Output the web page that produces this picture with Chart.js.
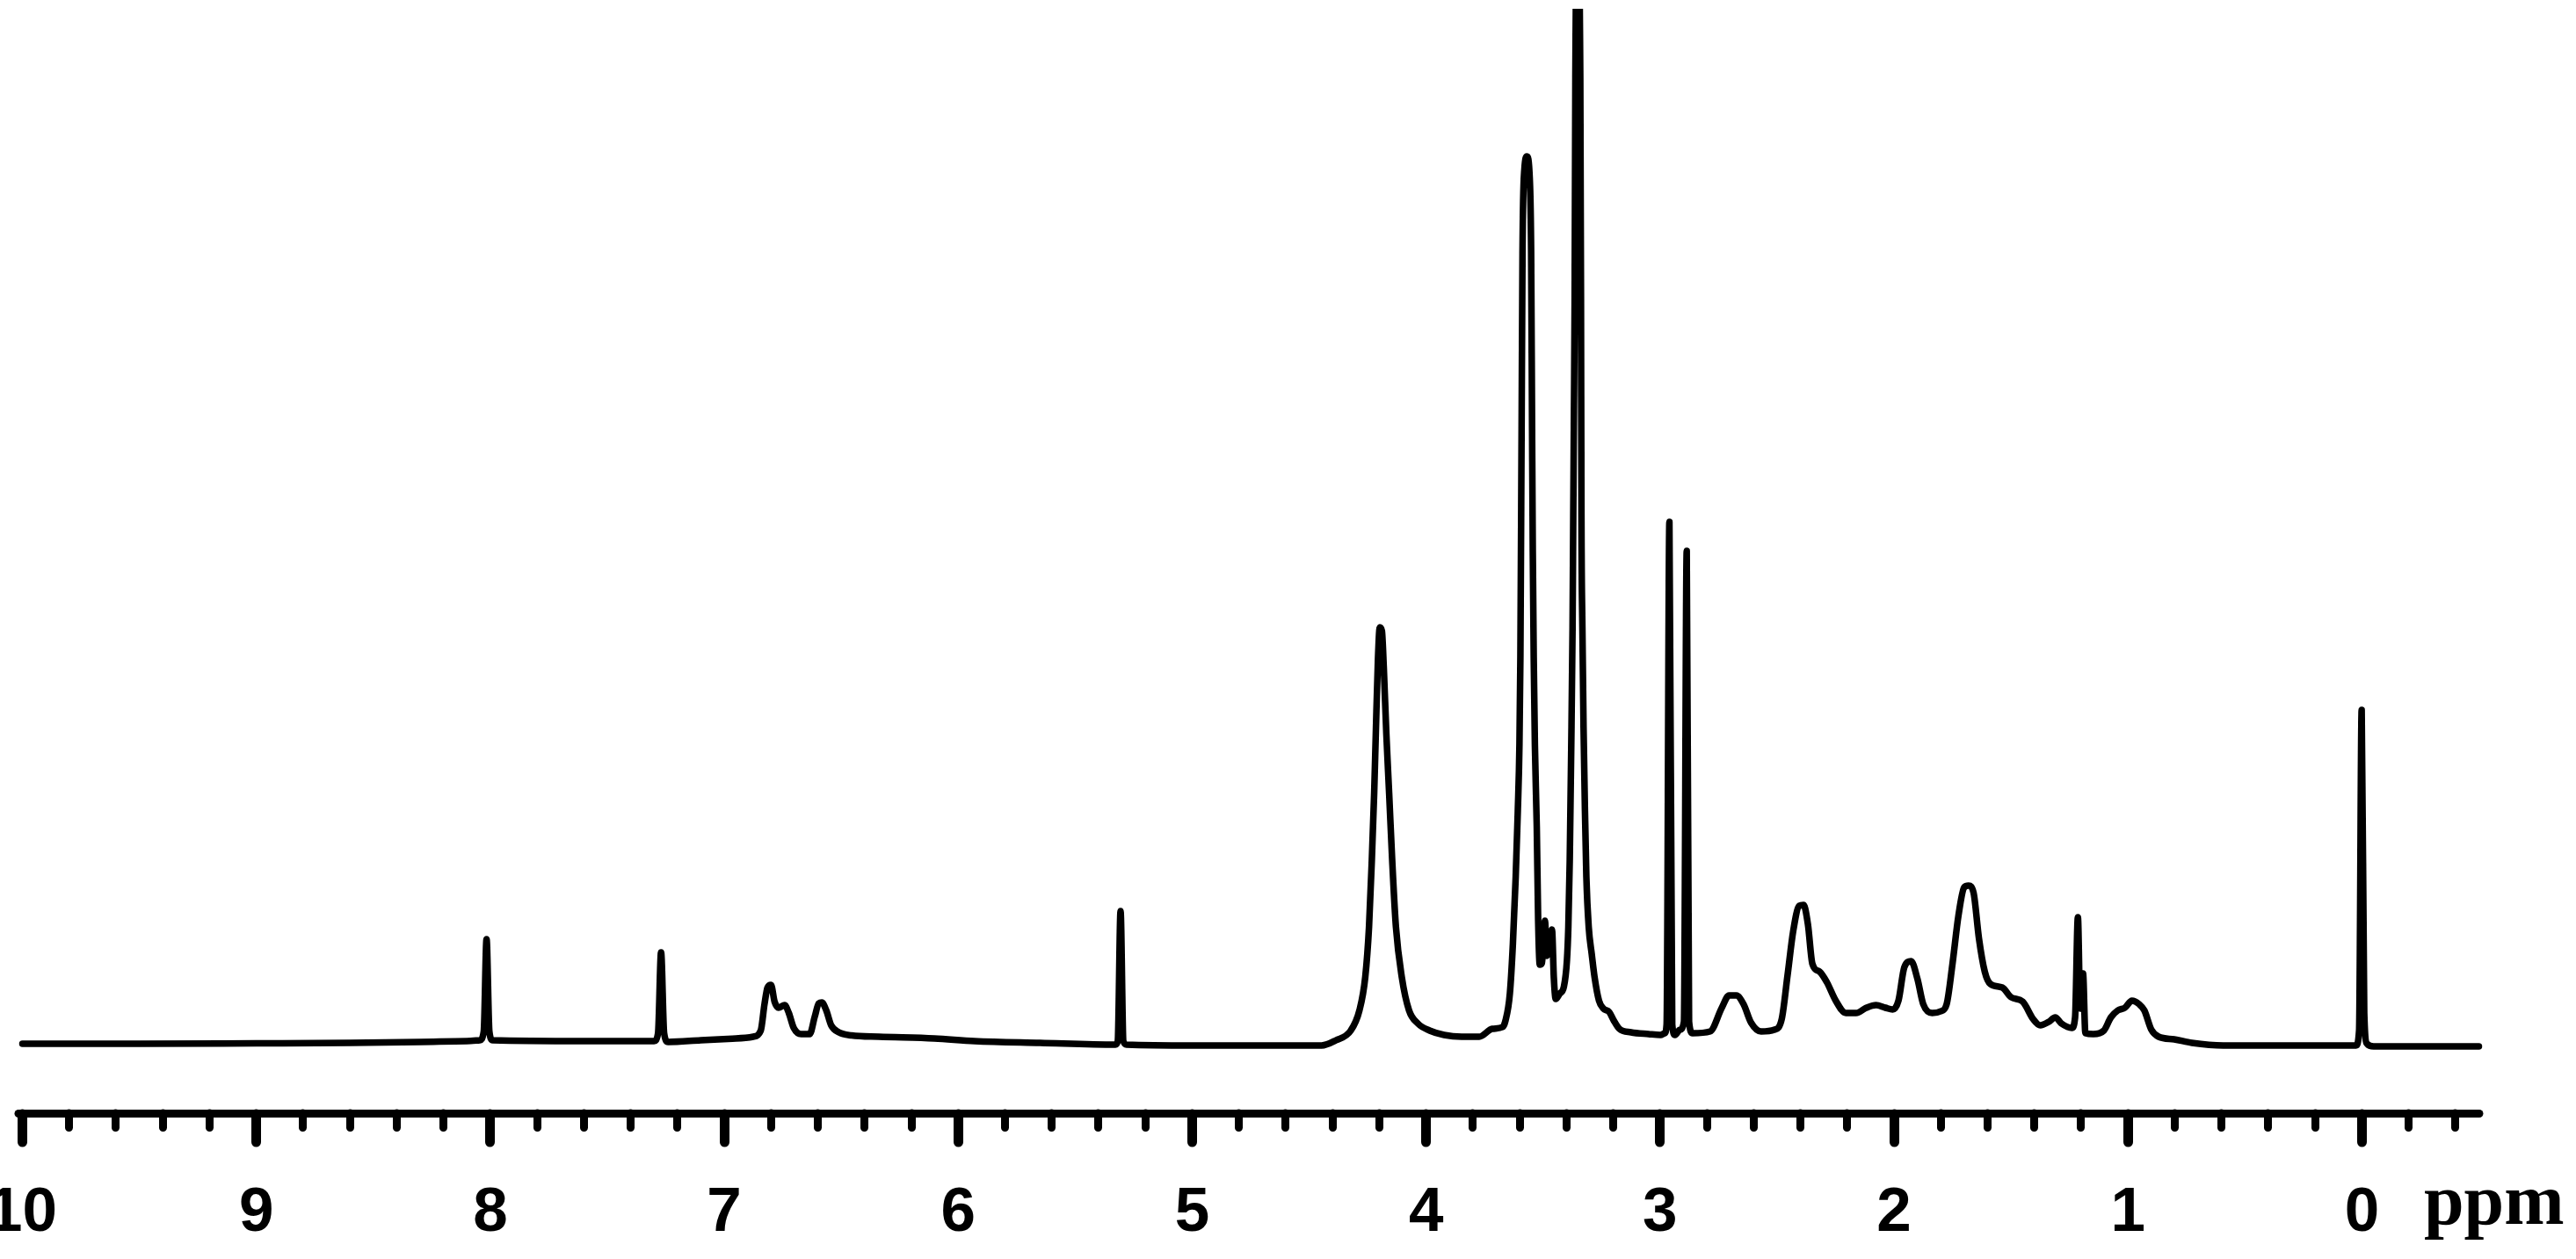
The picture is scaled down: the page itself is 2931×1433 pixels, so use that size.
<!DOCTYPE html>
<html>
<head>
<meta charset="utf-8">
<script src="https://cdn.jsdelivr.net/npm/chart.js@4.4.1/dist/chart.umd.min.js"></script>
<style>
html,body{margin:0;padding:0;background:#fff;overflow:hidden;width:2931px;height:1433px;position:relative}
#wrap{position:absolute;left:-60px;top:0;width:2991px;height:1470px}
#unit{position:absolute;left:2758px;top:1325px;font:bold 82px/82px 'Liberation Serif','Times New Roman',serif;color:#000;white-space:nowrap}
</style>
</head>
<body>
<div id="wrap"><canvas id="c" width="2991" height="1470"></canvas></div>
<div id="unit">ppm</div>
<script>
// Chemical shift (ppm) of each traced point, left to right
const ppm = [
  10.00, 9.50, 9.00, 8.60, 8.30, 8.10, 8.045, 8.028, 8.016, 8.004, 7.990,
  7.60, 7.30, 7.283, 7.270, 7.257, 7.240, 7.10, 6.95,
  6.876, 6.844, 6.828, 6.815, 6.800, 6.785, 6.768, 6.742, 6.724, 6.703, 6.671, 6.635, 6.613, 6.596, 6.583, 6.564, 6.543, 6.510, 6.456, 6.339,
  6.102, 5.930, 5.650, 5.328, 5.318, 5.306, 5.294, 5.280, 5.000, 4.600,
  4.447, 4.385, 4.322, 4.285, 4.260, 4.244, 4.232, 4.222, 4.215, 4.206, 4.198, 4.189, 4.181, 4.170, 4.158, 4.145, 4.129, 4.104, 4.073, 4.035, 3.985, 3.923, 3.848, 3.773, 3.717, 3.673,
  3.661, 3.642, 3.629, 3.617, 3.608, 3.601, 3.597, 3.592, 3.588, 3.580, 3.569, 3.557, 3.551, 3.547, 3.544, 3.540, 3.535, 3.527, 3.521, 3.514,
  3.505, 3.492, 3.484, 3.470, 3.462, 3.454, 3.446, 3.429, 3.411,
  3.398, 3.392, 3.386, 3.380, 3.374, 3.371, 3.368, 3.365, 3.362, 3.352, 3.341, 3.338, 3.336, 3.332, 3.327, 3.321, 3.315, 3.305, 3.292, 3.280, 3.261, 3.242, 3.217, 3.199, 3.174, 3.124, 3.049, 2.998, 2.980,
  2.972, 2.960, 2.948, 2.936, 2.915, 2.898, 2.886, 2.876, 2.861,
  2.786, 2.736, 2.705, 2.674, 2.643, 2.611, 2.568, 2.511, 2.480, 2.455, 2.431, 2.405, 2.387, 2.368, 2.349, 2.318, 2.287, 2.249, 2.206, 2.162, 2.118, 2.077, 2.037, 2.006,
  1.981, 1.956, 1.927, 1.900, 1.875, 1.837, 1.800, 1.775, 1.750, 1.725, 1.700, 1.681, 1.660, 1.637, 1.612, 1.588, 1.537, 1.500, 1.450,
  1.405, 1.375, 1.338, 1.311, 1.284, 1.240, 1.226, 1.214, 1.204, 1.192, 1.182, 1.148, 1.103, 1.073, 1.043, 1.013, 0.983, 0.952, 0.930, 0.900, 0.869, 0.802, 0.727, 0.592,
  0.124, 0.025, 0.012, 0.001, -0.010, -0.022, -0.050, -0.500
];

// Signal intensity (arbitrary units) at each ppm point above
const intensity = [
  0, 0, 0.5, 1, 2, 3, 4, 14, 119, 14, 4,
  3, 3, 12, 104, 12, 2, 4, 6,
  8, 15, 45, 64, 67, 48, 41, 44, 35, 18, 11, 11, 31, 46, 47, 38, 21, 13, 9.5, 8,
  6, 3, 1, -1, 3, 151, 3, -1, -2, -2,
  -2, 4, 15, 38, 76, 133, 209, 285, 353, 436, 474, 470, 429, 353, 285, 209, 133, 76, 38, 23, 15, 10, 8, 8, 17, 19,
  26, 57, 114, 190, 265, 341, 440, 690, 900, 995, 1010, 985, 900, 700, 560, 440, 340, 247, 140, 90,
  92, 140, 100, 118, 130, 75, 51, 57, 65,
  95, 133, 209, 330, 474, 600, 720, 850, 1100, 1260, 1100, 850, 600, 474, 360, 265, 190, 133, 102, 76, 49, 40, 36, 27, 17, 13, 11, 10, 12,
  22, 594, 22, 10, 16, 25, 561, 25, 12,
  14, 41, 55, 55, 45, 24, 14, 16, 28, 78, 128, 157, 158, 136, 91, 82, 70, 49, 35, 35, 41, 44, 41, 39,
  49, 87, 94, 74, 45, 35, 37, 45, 91, 145, 178, 180, 172, 120, 82, 68, 64, 53, 48,
  28, 21, 25, 30, 23, 18, 30, 144, 40, 80, 12, 11, 15, 30, 38, 41, 49, 45, 38, 16, 8, 5, 1, -2,
  -2, -2, 15, 380, 35, 0, -3, -3
];

// Axis ticks and labels
const majorTickValues = [10, 9, 8, 7, 6, 5, 4, 3, 2, 1, 0];
const majorTickLabels = ['10', '9', '8', '7', '6', '5', '4', '3', '2', '1', '0'];
const minorTickStep = 0.2;
const axisUnit = 'ppm';

const xMin = -0.5, xMax = 10;
const yMin = -79, yMax = 1178;

document.getElementById('unit').textContent = axisUnit;

const points = ppm.map((x, i) => ({ x: x, y: intensity[i] }));

const roundCaps = {
  id: 'roundCaps',
  beforeDraw(chart) { chart.ctx.lineCap = 'round'; }
};

const labelFont = { family: "'Liberation Sans', Arial, sans-serif", size: 71, weight: 'bold', lineHeight: 1 };

new Chart(document.getElementById('c'), {
  type: 'scatter',
  data: {
    datasets: [{
      data: points,
      showLine: true,
      borderColor: '#000',
      borderWidth: 7.5,
      pointRadius: 0,
      pointHoverRadius: 0,
      cubicInterpolationMode: 'monotone',
      fill: false,
      borderJoinStyle: 'round',
      borderCapStyle: 'round',
      clip: { left: 8, top: 0, right: 8, bottom: 8 }
    }]
  },
  plugins: [roundCaps],
  options: {
    responsive: false,
    animation: false,
    devicePixelRatio: 1,
    events: [],
    layout: { padding: { left: 78, right: 110.5, top: 10, bottom: 7 } },
    plugins: { legend: { display: false }, tooltip: { enabled: false } },
    scales: {
      x: {
        type: 'linear', position: 'bottom', min: xMin, max: xMax, reverse: true,
        ticks: {
          stepSize: 1, includeBounds: false, autoSkip: false, maxRotation: 0, minRotation: 0,
          padding: 46, color: '#000', font: labelFont,
          callback: (v) => {
            const i = majorTickValues.indexOf(Math.round(v));
            return i >= 0 ? majorTickLabels[i] : '';
          }
        },
        grid: { display: true, drawOnChartArea: false, drawTicks: true, tickLength: 33, tickWidth: 11, tickColor: '#000' },
        border: { display: true, width: 9, color: '#000' }
      },
      xMinor: {
        type: 'linear', axis: 'x', display: true, position: { y: yMin }, min: xMin, max: xMax, reverse: true,
        ticks: { display: false, stepSize: minorTickStep, includeBounds: false, autoSkip: false },
        grid: { display: true, drawOnChartArea: false, drawTicks: true, tickLength: 16.5, tickWidth: 9, tickColor: '#000' },
        border: { display: false }
      },
      y: { type: 'linear', display: false, min: yMin, max: yMax }
    }
  }
});
</script>
</body>
</html>
